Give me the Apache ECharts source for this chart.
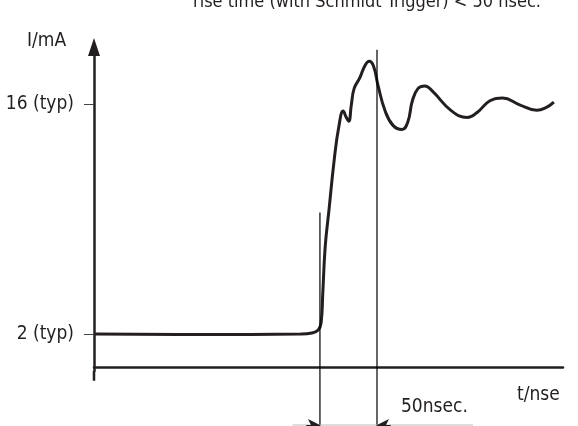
<!DOCTYPE html>
<html>
<head>
<meta charset="utf-8">
<script src="https://cdn.jsdelivr.net/npm/echarts@6/dist/echarts.min.js"></script>
<style>
html,body{margin:0;padding:0;background:#fff;}
#chart{width:578px;height:426px;}
</style>
</head>
<body>
<div id="chart"></div>
<script>
// time in nsec, current in mA
var curveT = [1, 93, 181, 191, 196.5, 199, 200.5, 202.6, 206, 210.5, 214.5, 218.4, 221, 223.3, 225.4, 228, 233, 237.5, 241.2, 245, 249, 255, 262, 270, 275, 279, 284, 290, 297, 313, 327, 336, 347, 358, 373, 388, 396, 403];
var curveI = [2.0, 1.97, 2.0, 2.06, 2.24, 2.67, 4.5, 7.3, 9.6, 12.6, 14.6, 15.57, 15.2, 14.95, 15.9, 16.95, 17.6, 18.35, 18.6, 18.3, 17.1, 15.6, 14.7, 14.45, 14.9, 16.2, 16.95, 17.1, 16.75, 15.6, 15.18, 15.5, 16.2, 16.36, 15.95, 15.62, 15.78, 16.12];
var yTickValues = [2, 16];
var yTickSuffix = ' (typ)';
var riseStart = 198;   // nsec
var riseEnd = 248;     // nsec (50 nsec later)
var titleText = 'rise time (with Schmidt Trigger) < 50 nsec.';
var yName = 'I/mA';
var xName = 't/nse';
var spanText = '50nsec.';

var FONT = '"Liberation Sans Narrow","DejaVu Sans Condensed","Roboto",sans-serif';
var INK = '#231f20';

var curve = curveT.map(function (t, i) { return [t, curveI[i]]; });

var chart = echarts.init(document.getElementById('chart'), null, {renderer: 'canvas'});
chart.setOption({
  animation: false,
  backgroundColor: '#fff',
  grid: [
    {left: 94, right: 15, top: 47, bottom: 55},
    {left: 94, right: 15, top: 47, bottom: 0}
  ],
  xAxis: [
    {type: 'value', gridIndex: 0, min: 0, max: 411,
     axisLine: {show: true, lineStyle: {color: INK, width: 2.5}},
     axisTick: {show: false}, axisLabel: {show: false}, splitLine: {show: false}},
    {type: 'value', gridIndex: 1, min: 0, max: 411, show: false}
  ],
  yAxis: [
    {type: 'value', gridIndex: 0, min: -0.25, max: 19.47,
     axisLine: {show: true, symbol: ['none', 'triangle'], symbolSize: [12, 18],
                lineStyle: {color: INK, width: 2.5}},
     axisTick: {show: true, length: 10, customValues: yTickValues,
                lineStyle: {color: '#444', width: 1}},
     axisLabel: {show: true, margin: 20, customValues: yTickValues,
                 formatter: function (v) { return v + yTickSuffix; },
                 fontFamily: FONT, fontSize: 19, color: INK},
     splitLine: {show: false}},
    {type: 'value', gridIndex: 1, min: -3.6, max: 19.47, show: false}
  ],
  graphic: [
    {type: 'text', left: 27, top: 32, style: {text: yName, font: '19px ' + FONT, fill: INK}},
    {type: 'text', left: 517, top: 386, style: {text: xName, font: '19px ' + FONT, fill: INK}},
    {type: 'text', left: 401, top: 398, style: {text: spanText, font: '19px ' + FONT, fill: INK}},
    {type: 'text', x: 367, y: -7, style: {text: titleText, font: '18px ' + FONT, fill: INK, textAlign: 'center'}}
  ],
  series: [
    {type: 'line', xAxisIndex: 0, yAxisIndex: 0, data: curve, smooth: 0.45,
     showSymbol: false, clip: false,
     lineStyle: {color: INK, width: 3}},
    {type: 'line', xAxisIndex: 1, yAxisIndex: 1, data: [[riseStart, 9.4], [riseStart, -3.6]],
     showSymbol: false, lineStyle: {color: '#000', width: 1.2}},
    {type: 'line', xAxisIndex: 1, yAxisIndex: 1, data: [[riseEnd, 19.3], [riseEnd, -3.6]],
     showSymbol: false, lineStyle: {color: '#000', width: 1.2}},
    {type: 'line', xAxisIndex: 1, yAxisIndex: 1, data: [[0, -0.25], [0, -0.85]],
     showSymbol: false, lineStyle: {color: INK, width: 2.5}},
    {type: 'line', xAxisIndex: 1, yAxisIndex: 1, data: [[174, -3.54], [332, -3.54]],
     showSymbol: false, lineStyle: {color: '#bbb', width: 1},
     markLine: {silent: true, symbol: ['none', 'arrow'], symbolSize: [9, 12], label: {show: false},
       lineStyle: {color: INK, width: 1, type: 'solid'},
       data: [
         [{coord: [186, -3.54]}, {coord: [riseStart, -3.54]}],
         [{coord: [260, -3.54]}, {coord: [riseEnd, -3.54]}]
       ]}}
  ]
});
</script>
</body>
</html>
